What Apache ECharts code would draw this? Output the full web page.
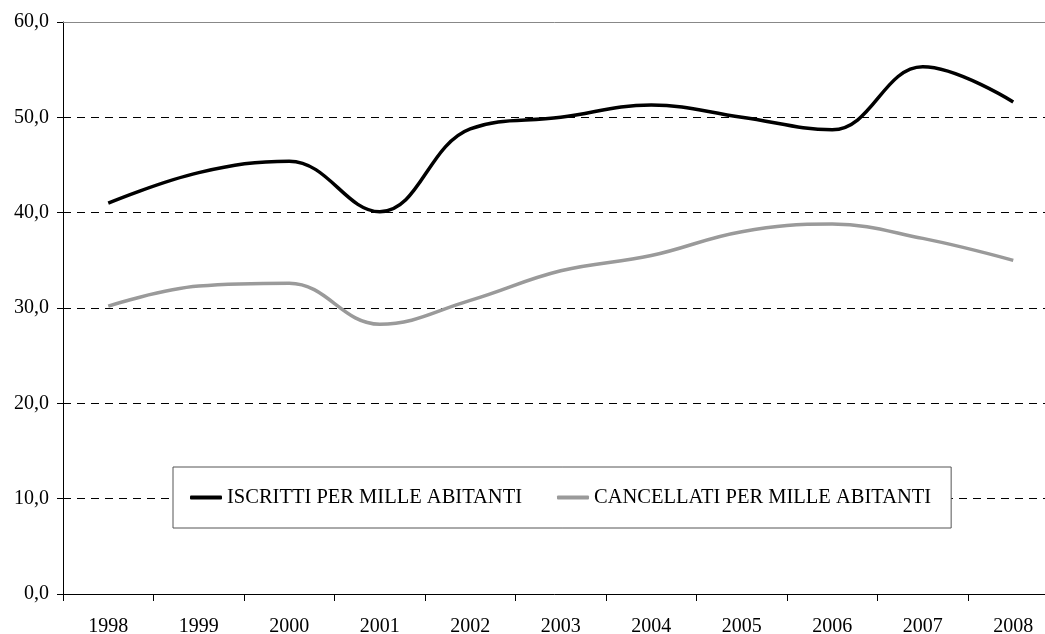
<!DOCTYPE html>
<html>
<head>
<meta charset="utf-8">
<script src="https://cdn.jsdelivr.net/npm/echarts@6/dist/echarts.min.js"></script>
<style>html,body{margin:0;padding:0;background:#fff;overflow:hidden;}#c{width:1045px;height:634px;}</style>
</head>
<body>
<div id="c"></div>
<script>
const years = ['1998','1999','2000','2001','2002','2003','2004','2005','2006','2007','2008'];
const iscritti = [41.0, 44.2, 45.4, 40.1, 48.8, 50.0, 51.3, 50.0, 48.7, 55.3, 51.6];
const cancellati = [30.2, 32.3, 32.6, 28.3, 30.8, 33.9, 35.5, 38.0, 38.8, 37.3, 35.0];
const yTicks = { min: 0, max: 60, interval: 10 };

const FONT = 'Liberation Serif';
const chart = echarts.init(document.getElementById('c'));
chart.setOption({
  animation: false,
  backgroundColor: '#fff',
  textStyle: { fontFamily: FONT, color: '#000' },
  grid: { left: 63, top: 22, width: 995.5, height: 572, containLabel: false, outerBoundsMode: 'none' },
  legend: {
    data: ['ISCRITTI PER MILLE ABITANTI', 'CANCELLATI PER MILLE ABITANTI'],
    left: 173, top: 467,
    padding: [20, 20, 20, 17],
    backgroundColor: '#fff',
    borderColor: '#555', borderWidth: 1,
    itemWidth: 32, itemHeight: 4, itemGap: 35,
    icon: 'roundRect',
    textStyle: { fontFamily: FONT, fontSize: 20.5, color: '#000' }
  },
  xAxis: [{
    type: 'category', data: years, boundaryGap: true,
    axisLine: { lineStyle: { color: '#000', width: 1 } },
    axisTick: { show: true, length: 7, lineStyle: { color: '#000' } },
    axisLabel: { fontFamily: FONT, fontSize: 20, color: '#000', margin: 23 },
    splitLine: { show: false }
  }, {
    type: 'category', data: years, position: 'top', boundaryGap: true,
    axisLine: { show: true, lineStyle: { color: '#888', width: 1 } },
    axisTick: { show: false }, axisLabel: { show: false }, splitLine: { show: false }
  }],
  yAxis: {
    type: 'value', min: yTicks.min, max: yTicks.max, interval: yTicks.interval,
    axisLine: { show: true, lineStyle: { color: '#000', width: 1 } },
    axisTick: { show: true, length: 6, lineStyle: { color: '#000' } },
    axisLabel: { fontFamily: FONT, fontSize: 20, color: '#000', margin: 14,
      formatter: v => v.toFixed(1).replace('.', ',') },
    splitLine: { show: true, showMinLine: false, showMaxLine: false,
      lineStyle: { color: '#000', width: 1, type: [8, 6] } }
  },
  series: [{
    name: 'ISCRITTI PER MILLE ABITANTI', type: 'line', data: iscritti,
    smooth: 0.4, symbol: 'none',
    lineStyle: { color: '#000', width: 3.5 }, itemStyle: { color: '#000' }
  }, {
    name: 'CANCELLATI PER MILLE ABITANTI', type: 'line', data: cancellati,
    smooth: 0.4, symbol: 'none',
    lineStyle: { color: '#9a9a9a', width: 3.5 }, itemStyle: { color: '#9a9a9a' }
  }]
});
</script>
</body>
</html>
